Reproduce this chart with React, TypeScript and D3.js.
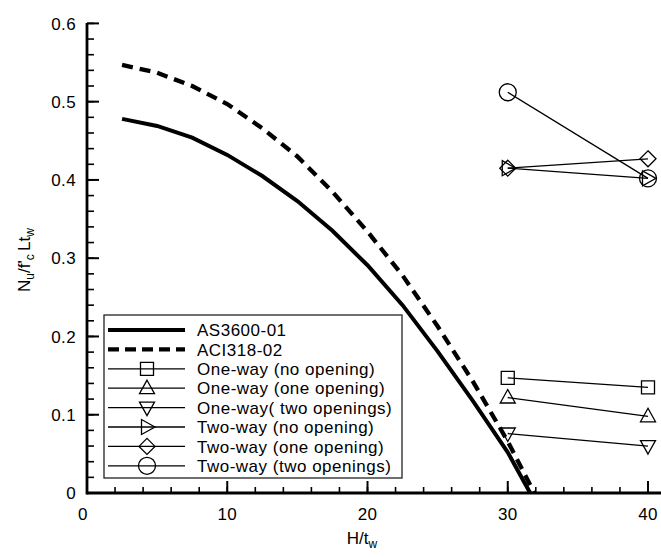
import React from 'react';
import * as d3 from 'd3';

// code curves
const as3600X = [2.5, 5, 7.5, 10, 12.5, 15, 17.5, 20, 22.5, 25, 27.5, 30, 31.6];
const as3600Y = [0.478, 0.469, 0.454, 0.432, 0.405, 0.373, 0.335, 0.291, 0.240, 0.181, 0.118, 0.052, 0];
const aciX = [2.5, 5, 7.5, 10, 12.5, 15, 17.5, 20, 22.5, 25, 27.5, 30, 31.9];
const aciY = [0.547, 0.537, 0.520, 0.497, 0.466, 0.430, 0.385, 0.334, 0.278, 0.213, 0.143, 0.066, 0];

// test results
const testX = [30, 40];
const oneWayNo = [0.147, 0.135];
const oneWayOne = [0.122, 0.098];
const oneWayTwo = [0.076, 0.060];
const twoWayNo = [0.415, 0.402];
const twoWayOne = [0.415, 0.427];
const twoWayTwo = [0.512, 0.402];

const xTicks = [0, 10, 20, 30, 40];
const yTicks = [0, 0.1, 0.2, 0.3, 0.4, 0.5, 0.6];

const FONT = '"Liberation Sans", Arial, Helvetica, sans-serif';

const x = d3.scaleLinear().domain([0, 40]).range([87, 648]);
const y = d3.scaleLinear().domain([0, 0.6]).range([493, 23.4]);

function marker(shape: string, cx: number, cy: number, key: string) {
  const common = { fill: 'none', stroke: '#000', strokeWidth: 1.3 };
  if (shape === 'circle') return <circle key={key} cx={cx} cy={cy} r={8.5} {...common} />;
  let pts: number[][] = [];
  if (shape === 'square') pts = [[-6.5, -6.5], [6.5, -6.5], [6.5, 6.5], [-6.5, 6.5]];
  if (shape === 'up') pts = [[0, -8], [7.5, 5.5], [-7.5, 5.5]];
  if (shape === 'down') pts = [[0, 8], [7.5, -5.5], [-7.5, -5.5]];
  if (shape === 'right') pts = [[8, 0], [-5.5, -7.5], [-5.5, 7.5]];
  if (shape === 'diamond') pts = [[0, -8], [8, 0], [0, 8], [-8, 0]];
  const d = 'M' + pts.map(p => `${cx + p[0]},${cy + p[1]}`).join('L') + 'Z';
  return <path key={key} d={d} {...common} />;
}

const tests = [
  { name: 'One-way (no opening)', vals: oneWayNo, shape: 'square' },
  { name: 'One-way (one opening)', vals: oneWayOne, shape: 'up' },
  { name: 'One-way( two openings)', vals: oneWayTwo, shape: 'down' },
  { name: 'Two-way (no opening)', vals: twoWayNo, shape: 'right' },
  { name: 'Two-way (one opening)', vals: twoWayOne, shape: 'diamond' },
  { name: 'Two-way (two openings)', vals: twoWayTwo, shape: 'circle' },
];

export default function App() {
  const line = d3.line<[number, number]>().x(d => x(d[0])).y(d => y(d[1]));
  const asPts = as3600X.map((v, i) => [v, as3600Y[i]] as [number, number]);
  const aciPts = aciX.map((v, i) => [v, aciY[i]] as [number, number]);

  const xMinor = d3.range(0, 41, 2);
  const yMinor = d3.range(0, 0.601, 0.02);

  const legendRows = 330;
  const rowH = 19.4;

  return (
    <svg width={661} height={557} style={{ position: 'absolute', left: 0, top: 0, background: '#fff' }}
      fontFamily={FONT}>
      {/* minor ticks */}
      {xMinor.map(t => (
        <line key={'xm' + t} x1={x(t)} x2={x(t)} y1={493} y2={487} stroke="#000" strokeWidth={1.6} />
      ))}
      {yMinor.map((t, i) => (
        <line key={'ym' + i} x1={87} x2={94} y1={y(t)} y2={y(t)} stroke="#000" strokeWidth={1.6} />
      ))}
      {xTicks.map(t => (
        <g key={'xt' + t}>
          <line x1={x(t)} x2={x(t)} y1={493} y2={481} stroke="#000" strokeWidth={2} />
          <text x={x(t) - (t === 0 ? 4 : 0)} y={520} fontSize={17} textAnchor="middle" letterSpacing={0.4}>{t}</text>
        </g>
      ))}
      {yTicks.map(t => (
        <g key={'yt' + t}>
          <line x1={87} x2={99} y1={y(t)} y2={y(t)} stroke="#000" strokeWidth={2} />
          <text x={76} y={y(t)} dy="0.36em" fontSize={17} textAnchor="end" letterSpacing={0.4}>{d3.format('')(+t.toFixed(1))}</text>
        </g>
      ))}
      <line x1={87} x2={661} y1={493} y2={493} stroke="#000" strokeWidth={2.8} />
      <line x1={87} x2={87} y1={23} y2={494.4} stroke="#000" strokeWidth={2.8} />

      {/* axis titles */}
      <text x={362} y={544} fontSize={17} textAnchor="middle">
        H/t<tspan fontSize={12} dy={4}>w</tspan>
      </text>
      <text transform="translate(30,260) rotate(-90)" fontSize={17} textAnchor="middle">
        <tspan>N</tspan><tspan fontSize={12} dy={4}>u</tspan><tspan dy={-4}>/f'</tspan><tspan fontSize={12} dy={4}>c</tspan><tspan dy={-4}>{'\u2009Lt'}</tspan><tspan fontSize={12} dy={4}>w</tspan>
      </text>

      {/* code curves */}
      <path d={line(asPts) || ''} fill="none" stroke="#000" strokeWidth={4} />
      <path d={line(aciPts) || ''} fill="none" stroke="#000" strokeWidth={4.3} strokeDasharray="11,7" />

      {/* tests */}
      {tests.map((s, si) => (
        <g key={'s' + si}>
          <path d={line(testX.map((v, i) => [v, s.vals[i]] as [number, number])) || ''} fill="none" stroke="#000" strokeWidth={1.3} />
          {testX.map((v, i) => marker(s.shape, x(v), y(s.vals[i]), 'm' + si + i))}
        </g>
      ))}

      {/* legend */}
      <rect x={104} y={315} width={298} height={163} fill="#fff" stroke="#222" strokeWidth={1.3} />
      <line x1={108} x2={185} y1={legendRows} y2={legendRows} stroke="#000" strokeWidth={4} />
      <text x={197} y={legendRows} dy="0.36em" fontSize={17} letterSpacing={0.5}>AS3600-01</text>
      <line x1={108} x2={185} y1={legendRows + rowH} y2={legendRows + rowH} stroke="#000" strokeWidth={4.3} strokeDasharray="11,6" />
      <text x={197} y={legendRows + rowH} dy="0.36em" fontSize={17} letterSpacing={0.5}>ACI318-02</text>
      {tests.map((s, i) => {
        const ly = legendRows + rowH * (i + 2);
        return (
          <g key={'l' + i}>
            <line x1={108} x2={185} y1={ly} y2={ly} stroke="#000" strokeWidth={1.3} />
            {marker(s.shape, 147, ly, 'lm' + i)}
            <text x={197} y={ly} dy="0.36em" fontSize={17} letterSpacing={0.5}>{s.name}</text>
          </g>
        );
      })}
    </svg>
  );
}
